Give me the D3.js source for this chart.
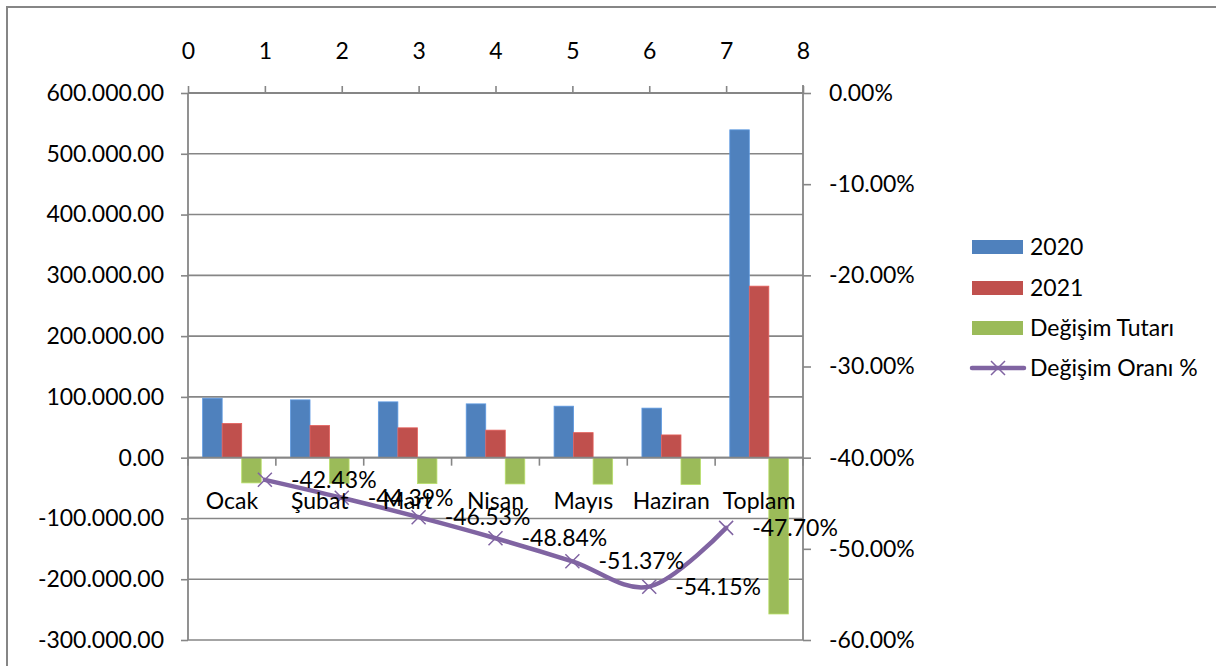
<!DOCTYPE html>
<html><head><meta charset="utf-8">
<script src="https://cdn.jsdelivr.net/npm/d3@7"></script>
<style>html,body{margin:0;padding:0;background:#fff;}svg{display:block;}</style>
</head><body>
<svg id="c" width="1216" height="666"></svg>
<script>
const categories = ["Ocak","Şubat","Mart","Nisan","Mayıs","Haziran","Toplam"];
const seriesNames = ["2020","2021","Değişim Tutarı"];
const lineName = "Değişim Oranı %";
const v2020 = [97800, 95100, 91800, 88500, 84700, 81500, 539400];
const v2021 = [56300, 52900, 49100, 45300, 41200, 37400, 282200];
const vChange = [-41500, -42200, -42700, -43200, -43500, -44100, -257200];
const ratePct = [-42.43, -44.39, -46.53, -48.84, -51.37, -54.15, -47.70];
const rateX = [1, 2, 3, 4, 5, 6, 7];
const leftTicks = [-300000,-200000,-100000,0,100000,200000,300000,400000,500000,600000];
const rightTicks = [-0.6,-0.5,-0.4,-0.3,-0.2,-0.1,0];
const topTicks = [0,1,2,3,4,5,6,7,8];
const colors = ["#4F81BD","#C0504D","#9BBB59"];
const lineColor = "#8064A2";

const FONT = "Lato, 'Open Sans', sans-serif";
const FS = 23;
const axisColor = "#868686";
const loc = d3.formatLocale({decimal:".", thousands:".", grouping:[3], currency:["",""], minus:"-"});
const fmtLeft = loc.format(",.2f");
const fmtRight = loc.format(".2%");

const svg = d3.select("#c");
const L = 188, R = 803, T = 93, B = 640;

const y0 = d3.scaleLinear().domain([-300000, 600000]).range([B, T]);
const y1 = d3.scaleLinear().domain([-0.6, 0]).range([B, T]);
const xTop = d3.scaleLinear().domain([0, 8]).range([L, R]);
const xCat = d3.scaleBand().domain(categories).range([L, R]).padding(0);
const xSub = d3.scaleBand().domain(seriesNames).range([0, xCat.bandwidth()]).paddingInner(0).paddingOuter(0.75);

// outer frame
svg.append("rect").attr("x",7).attr("y",7).attr("width",1300).attr("height",800)
  .attr("fill","none").attr("stroke",axisColor).attr("stroke-width",2);

// gridlines
svg.append("g").selectAll("line").data(leftTicks).join("line")
  .attr("x1", L).attr("x2", R).attr("y1", d=>y0(d)).attr("y2", d=>y0(d))
  .attr("stroke", axisColor).attr("stroke-width", 1.6);

// bars
const seriesVals = [v2020, v2021, vChange];
seriesVals.forEach((vals, si) => {
  svg.append("g").selectAll("rect").data(vals).join("rect")
    .attr("x", (d,i) => xCat(categories[i]) + xSub(seriesNames[si]))
    .attr("width", xSub.bandwidth())
    .attr("y", d => y0(Math.max(0,d)))
    .attr("height", d => Math.abs(y0(d) - y0(0)))
    .attr("fill", colors[si])
    .attr("stroke", d3.color(colors[si]).brighter(0.5)).attr("stroke-width", 0.8);
});

// left axis
const gL = svg.append("g").attr("transform",`translate(${L},0)`)
  .call(d3.axisLeft(y0).tickValues(leftTicks).tickFormat(fmtLeft).tickSize(7).tickPadding(17));
// right axis
const gR = svg.append("g").attr("transform",`translate(${R},0)`)
  .call(d3.axisRight(y1).tickValues(rightTicks).tickFormat(fmtRight).tickSize(8).tickPadding(18));
// top axis
const gT = svg.append("g").attr("transform",`translate(0,${T})`)
  .call(d3.axisTop(xTop).tickValues(topTicks).tickFormat(d3.format("d")).tickSize(7).tickPadding(27));
// category axis at zero
const gC = svg.append("g").attr("transform",`translate(0,${y0(0)})`)
  .call(d3.axisBottom(xCat).tickSize(0).tickPadding(0));
gC.selectAll(".tick text").remove();
gC.select(".domain").attr("d", `M${L},0H${R}`);
// category tick marks at boundaries
gC.append("g").selectAll("line").data(d3.range(0, categories.length+1)).join("line")
  .attr("x1", i => L + i*xCat.step()).attr("x2", i => L + i*xCat.step())
  .attr("y1", 0).attr("y2", 8).attr("stroke", axisColor).attr("stroke-width", 1.6);

[gL,gR,gT,gC].forEach(g => {
  g.selectAll(".domain").attr("stroke", axisColor).attr("stroke-width", 1.8);
  g.selectAll(".tick line").attr("stroke", axisColor).attr("stroke-width", 1.6);
  g.selectAll("text").attr("font-family", FONT).attr("font-size", FS).attr("fill", "#000");
});
gT.select(".domain").attr("d", `M${L},0H${R}`);
gL.select(".domain").attr("d", `M0,${B}V${T}`);
gR.select(".domain").attr("d", `M0,${B}V${T-8}`);

// line
const pts = ratePct.map((r,i) => [xTop(rateX[i]), y1(r/100)]);
svg.append("path").datum(pts)
  .attr("d", d3.line().curve(d3.curveCatmullRom.alpha(0)))
  .attr("fill","none").attr("stroke", lineColor).attr("stroke-width", 4.5)
  .attr("stroke-linejoin","round").attr("stroke-linecap","round");
const ms = 7;
svg.append("g").selectAll("path").data(pts).join("path")
  .attr("d", d => `M${d[0]-ms},${d[1]-ms}L${d[0]+ms},${d[1]+ms}M${d[0]-ms},${d[1]+ms}L${d[0]+ms},${d[1]-ms}`)
  .attr("stroke", lineColor).attr("stroke-width", 1.5).attr("fill","none");

// category labels
svg.append("g").selectAll("text").data(categories).join("text")
  .attr("x", d => xCat(d) + xCat.bandwidth()/2)
  .attr("y", y0(0) + 51)
  .attr("text-anchor","middle")
  .attr("font-family", FONT).attr("font-size", FS).attr("fill","#000")
  .text(d => d);

// data labels
svg.append("g").selectAll("text").data(ratePct).join("text")
  .attr("x", (d,i) => pts[i][0] + 26)
  .attr("y", (d,i) => pts[i][1] + 8)
  .attr("font-family", FONT).attr("font-size", FS).attr("fill","#000")
  .text(d => d.toFixed(2) + "%");

// legend
const lg = svg.append("g");
const legY = [247, 288, 328, 368];
seriesNames.forEach((n,i) => {
  lg.append("rect").attr("x", 972).attr("y", legY[i]-7).attr("width", 51).attr("height", 14).attr("fill", colors[i]);
  lg.append("text").attr("x", 1030).attr("y", legY[i]+8).attr("font-family", FONT).attr("font-size", FS).attr("fill","#000").text(n);
});
lg.append("line").attr("x1", 972).attr("x2", 1024).attr("y1", legY[3]).attr("y2", legY[3])
  .attr("stroke", lineColor).attr("stroke-width", 4.5).attr("stroke-linecap","round");
lg.append("path").attr("d", `M${998-ms},${legY[3]-ms}L${998+ms},${legY[3]+ms}M${998-ms},${legY[3]+ms}L${998+ms},${legY[3]-ms}`)
  .attr("stroke", lineColor).attr("stroke-width", 1.5);
lg.append("text").attr("x", 1030).attr("y", legY[3]+8).attr("font-family", FONT).attr("font-size", FS).attr("fill","#000").text(lineName);
</script>
</body></html>
